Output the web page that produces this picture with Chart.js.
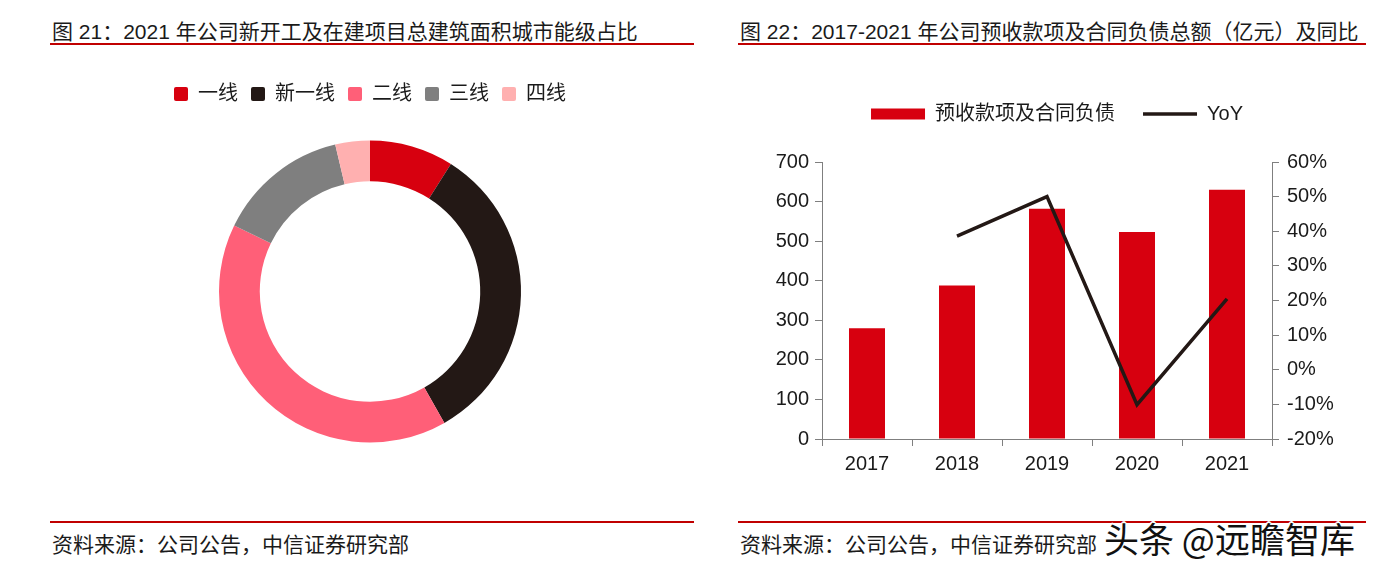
<!DOCTYPE html>
<html>
<head>
<meta charset="utf-8">
<script src="https://cdn.jsdelivr.net/npm/chart.js@4.4.0/dist/chart.umd.min.js"></script>
<style>
    body { margin: 0; width: 1374px; height: 572px; background: #fff; position: relative; overflow: hidden;
           font-family: "Liberation Sans", "Noto Sans CJK SC", sans-serif; color: #1a1a1a; }
    .title, .source { position: absolute; font-size: 21px; line-height: 24px; white-space: nowrap; }
    .rule { position: absolute; height: 2px; background: #c00000; }
    canvas { position: absolute; }
    .mark { position: absolute; left: 1104px; top: 517px; font-size: 35px; line-height: 42px; color: #111;
            font-family: "Noto Sans CJK SC", sans-serif; white-space: nowrap;
            text-shadow: -2px 0 #fff, 2px 0 #fff, 0 -2px #fff, 0 2px #fff, -1px -1px #fff, 1px 1px #fff, -1px 1px #fff, 1px -1px #fff; }
</style>
</head>
<body>
    <div class="title" style="left:52px;top:20px">图 21：2021 年公司新开工及在建项目总建筑面积城市能级占比</div>
    <div class="rule" style="left:50px;top:43px;width:644px"></div>
    <div class="title" style="left:740px;top:20px">图 22：2017-2021 年公司预收款项及合同负债总额（亿元）及同比</div>
    <div class="rule" style="left:738px;top:43px;width:628px"></div>

    <canvas id="tierChart" width="740" height="398" style="left:0;top:71px"></canvas>
    <canvas id="receiptChart" width="634" height="403" style="left:740px;top:76px"></canvas>

    <div class="rule" style="left:50px;top:521px;width:644px"></div>
    <div class="source" style="left:52px;top:533px">资料来源：公司公告，中信证券研究部</div>
    <div class="rule" style="left:738px;top:521px;width:628px"></div>
    <div class="source" style="left:740px;top:533px">资料来源：公司公告，中信证券研究部</div>
    <div class="mark">头条 @远瞻智库</div>

<script>
    // chart data
    const cityTiers = ['一线', '新一线', '二线', '三线', '四线'];
    const tierShares = [9.0, 32.8, 40.4, 14.1, 3.7];
    const tierColors = ['#d7000f', '#231815', '#ff5f78', '#7f7f7f', '#ffb0b0'];

    const years = ['2017', '2018', '2019', '2020', '2021'];
    const advanceReceipts = [280, 388, 582, 523, 630];
    const yoyGrowth = [null, 38.6, 50.0, -10.1, 20.5];

    const fontFamily = "'Liberation Sans', 'Noto Sans CJK SC', sans-serif";
    const axisColor = '#7f7f7f';
    Chart.defaults.color = '#1a1a1a';
    Chart.defaults.font.family = fontFamily;

    // doughnut: city tier split
    new Chart(document.getElementById('tierChart').getContext('2d'), {
        type: 'doughnut',
        data: {
            labels: cityTiers,
            datasets: [{
                data: tierShares,
                backgroundColor: tierColors,
                borderWidth: 0
            }]
        },
        options: {
            responsive: false,
            animation: false,
            radius: 151,
            cutout: '73%',
            plugins: {
                legend: {
                    position: 'top',
                    labels: {
                        boxWidth: 14,
                        boxHeight: 14,
                        useBorderRadius: true,
                        borderRadius: 2,
                        padding: 13,
                        font: { size: 20, family: fontFamily }
                    }
                },
                tooltip: { enabled: false }
            }
        }
    });

    // push the plot area down below the legend
    const legendGap = {
        id: 'legendGap',
        beforeInit(chart) {
            const fit = chart.legend.fit;
            chart.legend.fit = function () {
                fit.bind(chart.legend)();
                this.height += 28;
            };
        }
    };

    // bars + YoY line
    new Chart(document.getElementById('receiptChart').getContext('2d'), {
        type: 'bar',
        data: {
            labels: years,
            datasets: [{
                type: 'bar',
                label: '预收款项及合同负债',
                data: advanceReceipts,
                backgroundColor: '#d7000f',
                borderWidth: 0,
                barPercentage: 0.4,
                categoryPercentage: 1,
                pointStyle: 'rect',
                yAxisID: 'y',
                order: 1
            }, {
                type: 'line',
                label: 'YoY',
                data: yoyGrowth,
                borderColor: '#231815',
                backgroundColor: '#231815',
                borderWidth: 3.5,
                pointRadius: 0,
                pointStyle: 'line',
                tension: 0,
                yAxisID: 'y1',
                order: 0
            }]
        },
        plugins: [legendGap],
        options: {
            responsive: false,
            animation: false,
            plugins: {
                legend: {
                    position: 'top',
                    labels: {
                        usePointStyle: true,
                        pointStyleWidth: 54,
                        boxHeight: 11,
                        padding: 28,
                        sort: (a, b) => a.datasetIndex - b.datasetIndex,
                        font: { size: 20, family: fontFamily }
                    }
                },
                tooltip: { enabled: false }
            },
            scales: {
                x: {
                    grid: { display: true, drawOnChartArea: false, drawTicks: true, tickLength: 7, color: axisColor, offset: true },
                    border: { color: axisColor },
                    ticks: { font: { size: 20 }, padding: 6, color: '#1a1a1a' },
                    afterFit: (scale) => { scale.height = 40; }
                },
                y: {
                    position: 'left',
                    min: 0,
                    max: 700,
                    ticks: { stepSize: 100, font: { size: 20 }, padding: 6, color: '#1a1a1a' },
                    grid: { drawOnChartArea: false, drawTicks: true, tickLength: 7, color: axisColor },
                    border: { color: axisColor },
                    afterFit: (scale) => { scale.width = 82; }
                },
                y1: {
                    position: 'right',
                    min: -20,
                    max: 60,
                    ticks: { stepSize: 10, font: { size: 20 }, padding: 8, color: '#1a1a1a', callback: v => v + '%' },
                    grid: { drawOnChartArea: false, drawTicks: true, tickLength: 7, color: axisColor },
                    border: { color: axisColor },
                    afterFit: (scale) => { scale.width = 102; }
                }
            }
        }
    });
</script>
</body>
</html>
